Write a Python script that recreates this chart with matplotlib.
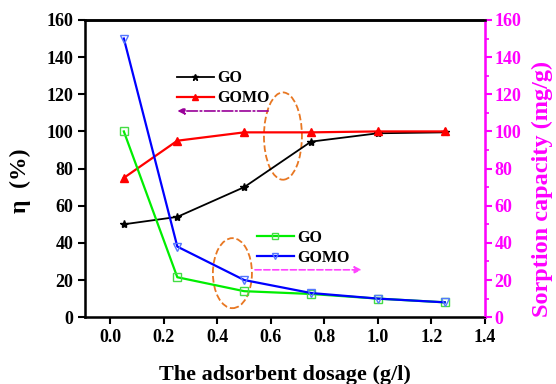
import matplotlib.pyplot as plt
from matplotlib.patches import Ellipse

plt.rcParams['font.family'] = ['Liberation Serif', 'DejaVu Serif']
plt.rcParams['font.weight'] = 'bold'

# dosage (g/l)
dosage = [0.05, 0.25, 0.5, 0.75, 1.0, 1.25]
# removal efficiency (%)
eta_go = [50, 54, 70, 94.5, 99, 99.5]
eta_gomo = [75, 95, 99.5, 99.5, 100, 100]
# sorption capacity (mg/g)
cap_go = [100, 21.5, 14, 12.5, 10, 8]
cap_gomo = [150, 38, 20, 13, 10, 8]

xticks = [0.0, 0.2, 0.4, 0.6, 0.8, 1.0, 1.2, 1.4]
yticks = [0, 20, 40, 60, 80, 100, 120, 140, 160]

fig = plt.figure(figsize=(5.56, 3.84), dpi=100)
ax = fig.add_axes([0.153, 0.174, 0.719, 0.774])
ax2 = ax.twinx()

ax.plot(dosage, eta_go, '-', color='black', marker='*', markersize=6, lw=1.3, label='GO')
ax.plot(dosage, eta_gomo, '-', color='red', marker='^', markersize=6, lw=1.6, label='GOMO')
ax2.plot(dosage, cap_go, '-', color='#00ee00', marker='s', mfc='none', mec='#44dd44',
         markersize=6, lw=1.6, label='GO')
ax2.plot(dosage, cap_gomo, '-', color='blue', marker='v', mfc='none', mec='#5577ff',
         markersize=6, lw=1.6, label='GOMO')

ax.set_xlim(-0.095, 1.4)
ax.set_ylim(0, 160)
ax2.set_ylim(0, 160)
ax.set_xticks(xticks)
ax.set_yticks(yticks)
ax2.set_yticks(yticks)
ax2.set_yticks(range(10, 160, 20), minor=True)

ax.tick_params(axis='both', labelsize=13, width=1.5, length=5, direction='out')
ax2.tick_params(axis='y', which='major', labelsize=13, width=1.5, length=5,
                colors='magenta', direction='out', pad=2)
ax2.tick_params(axis='y', which='minor', width=1.2, length=3, colors='magenta')
for lab in ax.get_xticklabels() + ax.get_yticklabels() + ax2.get_yticklabels():
    lab.set_fontweight('bold')

for s in ['left', 'bottom', 'top']:
    ax.spines[s].set_linewidth(1.8)
ax2.spines['right'].set_color('magenta')
ax2.spines['right'].set_linewidth(1.8)
ax2.spines['top'].set_linewidth(1.8)

ax.set_xlabel('The adsorbent dosage (g/l)', fontsize=16, fontweight='bold', labelpad=14)
ax.set_ylabel('η  (%)', fontsize=17, fontweight='bold')
ax.yaxis.set_label_coords(-0.135, 0.46)
ax2.set_ylabel('Sorption capacity (mg/g)', fontsize=17.5, fontweight='bold',
               color='magenta')
ax2.yaxis.set_label_coords(1.118, 0.43)

leg1 = ax.legend(loc='upper left', bbox_to_anchor=(0.21, 0.858), frameon=False,
                 prop={'weight': 'bold', 'size': 11.5}, handlelength=2.3,
                 handletextpad=0.2, labelspacing=0.25, borderpad=0,
                 markerscale=0.8)
leg2 = ax2.legend(loc='upper left', bbox_to_anchor=(0.41, 0.32), frameon=False,
                  prop={'weight': 'bold', 'size': 11.5}, handlelength=2.3,
                  handletextpad=0.2, labelspacing=0.25, borderpad=0,
                  markerscale=0.8)

# annotation arrows
ax.annotate('', xy=(0.24, 111), xytext=(0.6, 111),
            arrowprops=dict(arrowstyle='-|>', color='#990099', lw=1.2,
                            linestyle='-.', mutation_scale=10))
ax2.annotate('', xy=(0.95, 25.5), xytext=(0.53, 25.5),
             arrowprops=dict(arrowstyle='-|>', color='#ff44ff', lw=1.2,
                             linestyle='--', mutation_scale=10))

# dashed ellipses
ax.add_patch(Ellipse((0.645, 97.5), 0.142, 47, fill=False, ec='#e87722',
                     ls='--', lw=1.3))
ax.add_patch(Ellipse((0.456, 23.7), 0.146, 37.7, fill=False, ec='#e87722',
                     ls='--', lw=1.3))

fig.savefig('out.png', dpi=100)
